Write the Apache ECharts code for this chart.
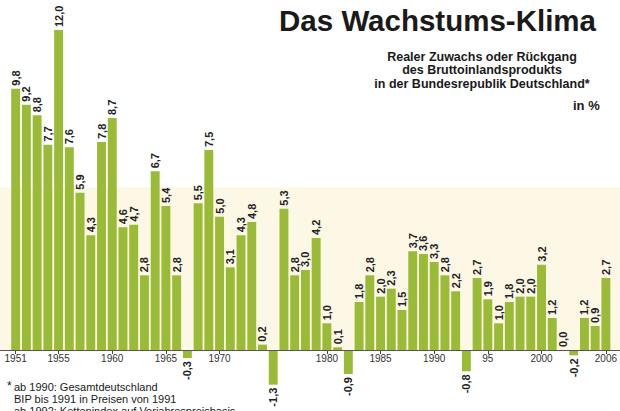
<!DOCTYPE html>
<html>
<head>
<meta charset="utf-8">
<script src="https://cdn.jsdelivr.net/npm/echarts@6/dist/echarts.min.js"></script>
<style>
  html, body { margin: 0; padding: 0; background: #fff; }
  #main { width: 620px; height: 411px; }
</style>
</head>
<body>
<div id="main"></div>
<script>
// Jahre und reales BIP-Wachstum in %
var years = ['1951','1952','1953','1954','1955','1956','1957','1958','1959','1960',
  '1961','1962','1963','1964','1965','1966','1967','1968','1969','1970',
  '1971','1972','1973','1974','1975','1976','1977','1978','1979','1980',
  '1981','1982','1983','1984','1985','1986','1987','1988','1989','1990',
  '1991','1992','1993','1994','1995','1996','1997','1998','1999','2000',
  '2001','2002','2003','2004','2005','2006'];
var growth = [9.8, 9.2, 8.8, 7.7, 12.0, 7.6, 5.9, 4.3, 7.8, 8.7,
  4.6, 4.7, 2.8, 6.7, 5.4, 2.8, -0.3, 5.5, 7.5, 5.0,
  3.1, 4.3, 4.8, 0.2, -1.3, 5.3, 2.8, 3.0, 4.2, 1.0,
  0.1, -0.9, 1.8, 2.8, 2.0, 2.3, 1.5, 3.7, 3.6, 3.3,
  2.8, 2.2, -0.8, 2.7, 1.9, 1.0, 1.8, 2.0, 2.0, 3.2,
  1.2, 0.0, -0.2, 1.2, 0.9, 2.7];
// beschriftete Jahre auf der x-Achse
var tickYears = ['1951','1955','1960','1965','1970','1980','1985','1990','1995','2000','2006'];
var tickTexts = ['1951','1955','1960','1965','1970','1980','1985','1990','95','2000','2006'];
var bandTop = 6.1;

var font = "'Liberation Sans', Arial, Helvetica, sans-serif";
var green = '#99bb37';

function fmt(v) {
  return v.toFixed(1).replace('.', ',');
}

var barData = growth.map(function (v) {
  var neg = v < 0;
  return {
    value: v,
    label: {
      position: neg ? 'bottom' : 'top',
      align: neg ? 'right' : 'left',
      distance: 3
    }
  };
});

// Nulllinie liegt am unteren Rand des Grids, negative Balken ragen darunter
var hiddenY = {
  type: 'value',
  min: 0,
  max: 12,
  show: false
};

var chart = echarts.init(document.getElementById('main'), null, { renderer: 'svg' });
chart.setOption({
  animation: false,
  grid: [
    { left: 10.3, right: 6.1, top: 30, bottom: 61 },
    { left: 0, right: 0, top: 30, bottom: 61 }
  ],
  xAxis: [{
    type: 'category',
    gridIndex: 0,
    data: years,
    axisLine: { show: false },
    axisTick: {
      show: true,
      alignWithLabel: true,
      length: 4,
      inside: false,
      lineStyle: { color: '#444', width: 1 },
      interval: function (i, val) { return tickYears.indexOf(val) >= 0; }
    },
    axisLabel: {
      interval: function (i, val) { return tickYears.indexOf(val) >= 0; },
      formatter: function (val) {
        var k = tickYears.indexOf(val);
        return k >= 0 ? tickTexts[k] : '';
      },
      color: '#333',
      fontFamily: font,
      fontSize: 10,
      margin: 3
    }
  }, {
    type: 'value',
    gridIndex: 1,
    min: 0,
    max: 1,
    show: false
  }],
  yAxis: [
    Object.assign({ gridIndex: 0 }, hiddenY),
    Object.assign({ gridIndex: 1 }, hiddenY)
  ],
  series: [{
    type: 'line',
    xAxisIndex: 1,
    yAxisIndex: 1,
    data: [],
    z: 0,
    silent: true,
    markArea: {
      silent: true,
      itemStyle: { color: '#fdf7e6' },
      data: [[{ yAxis: 0 }, { yAxis: bandTop }]]
    },
    markLine: {
      silent: true,
      symbol: 'none',
      label: { show: false },
      lineStyle: { color: '#555', width: 1, type: 'solid' },
      data: [{ yAxis: 0 }]
    }
  }, {
    type: 'bar',
    xAxisIndex: 0,
    yAxisIndex: 0,
    data: barData,
    z: 3,
    clip: false,
    barCategoryGap: '17%',
    itemStyle: { color: green },
    label: {
      show: true,
      rotate: 90,
      verticalAlign: 'middle',
      fontFamily: font,
      fontSize: 11,
      fontWeight: 'bold',
      color: '#222',
      formatter: function (p) { return fmt(p.value); }
    }
  }],
  graphic: [{
    type: 'text',
    right: 24,
    top: 5,
    style: {
      text: 'Das Wachstums-Klima',
      font: 'bold 29.5px ' + font,
      fill: '#1a1a1a'
    }
  }, {
    type: 'text',
    x: 482,
    y: 50,
    style: {
      text: 'Realer Zuwachs oder Rückgang\ndes Bruttoinlandsprodukts\nin der Bundesrepublik Deutschland*',
      font: 'bold 12.5px ' + font,
      lineHeight: 13.5,
      textAlign: 'center',
      fill: '#1a1a1a'
    }
  }, {
    type: 'text',
    x: 573,
    y: 99,
    style: {
      text: 'in %',
      font: 'bold 13px ' + font,
      fill: '#1a1a1a'
    }
  }, {
    type: 'text',
    x: 7,
    y: 380,
    style: {
      text: '*',
      font: '12px ' + font,
      fill: '#1a1a1a'
    }
  }, {
    type: 'text',
    x: 14,
    y: 381,
    style: {
      text: 'ab 1990: Gesamtdeutschland\nBIP bis 1991 in Preisen von 1991\nab 1992: Kettenindex auf Vorjahrespreisbasis',
      font: '11px ' + font,
      lineHeight: 12,
      fill: '#1a1a1a'
    }
  }]
});
</script>
</body>
</html>
